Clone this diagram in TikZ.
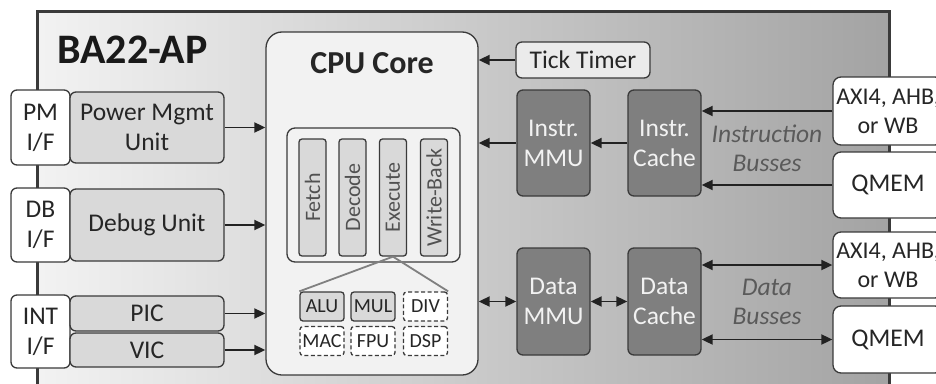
\documentclass[tikz,border=0pt]{standalone}
\usepackage{fontspec}
\setmainfont{Carlito}
\usetikzlibrary{arrows.meta}
\definecolor{bd}{HTML}{3A3A3A}
\definecolor{lg}{HTML}{D9D9D9}
\definecolor{dg}{HTML}{7F7F7F}
\definecolor{cpuf}{HTML}{F2F2F2}
\definecolor{txt}{HTML}{262626}
\definecolor{busc}{HTML}{5A5A5A}
\definecolor{ln}{HTML}{222222}
\begin{document}
\begin{tikzpicture}[x=1pt,y=-1pt,
  box/.style={draw=bd, line width=1.3pt, rounded corners=6pt, inner sep=0pt, align=center,
    font=\fontsize{25.5}{30}\selectfont, text=txt},
  ifbox/.style={box, fill=white},
  lbox/.style={box, fill=lg},
  dbox/.style={box, fill=dg, text=white!95!black},
  stagebox/.style={box, fill=lg, rotate=90, minimum width=117pt, minimum height=27pt,
    rounded corners=3pt, font=\fontsize{22}{24}\selectfont, text=txt!80!white},
  eubox/.style={box, rounded corners=3pt, minimum width=44pt, minimum height=29pt,
    font=\fontsize{20}{22}\selectfont},
  eufix/.style={eubox, fill=lg},
  euopt/.style={eubox, fill=white, dash pattern=on 4pt off 2.5pt},
  arr/.style={draw=ln, line width=1.8pt, -{Triangle[length=11pt,width=10pt]}},
  darr/.style={draw=ln, line width=1.8pt, {Triangle[length=11pt,width=10pt]}-{Triangle[length=11pt,width=10pt]}},
  fan/.style={draw=gray, line width=1.8pt},
  bus/.style={font=\itshape\fontsize{25.5}{29}\selectfont, text=busc, align=center, inner sep=0pt}
]
\useasboundingbox (0,0) rectangle (936,383);
\clip (0,0) rectangle (936,383);
% outer chip
\shade[left color=black!5, right color=black!36] (37,11) rectangle (889,400);
\draw[bd, line width=3pt] (37,11) rectangle (889,400);
\node[anchor=base west, inner sep=0pt, font=\bfseries\fontsize{42}{48}\selectfont, text=black!90] (title) at (57,63) {BA22-AP};

% CPU core
\node[box, fill=cpuf, rounded corners=16pt, minimum width=212pt, minimum height=343pt] (cpu) at (372,203.5) {};
\node[anchor=base, inner sep=0pt, font=\bfseries\fontsize{32}{36}\selectfont, text=txt] (cputitle) at (372,73) {CPU Core};
\node[box, fill=cpuf, rounded corners=8pt, minimum width=173pt, minimum height=134pt] (pipe) at (373.5,195) {};
\node[stagebox] (fetch) at (312.5,197.5) {Fetch};
\node[stagebox] (decode) at (352.5,197.5) {Decode};
\node[stagebox] (exe) at (393,197.5) {Execute};
\node[stagebox] (wb) at (434,197.5) {Write-Back};
\node[eufix] (alu) at (322,306.5) {ALU};
\node[eufix] (mul) at (373,306.5) {MUL};
\node[euopt] (div) at (425.5,306.5) {DIV};
\node[euopt] (mac) at (322,341) {MAC};
\node[euopt] (fpu) at (373,341) {FPU};
\node[euopt] (dsp) at (425.5,341) {DSP};
\draw[fan] (exe.west) -- (alu.north west);
\draw[fan] (exe.west) -- (div.north east);

% left side
\node[ifbox, minimum width=59pt, minimum height=75pt] (pmif) at (40.5,127.5) {PM\\I/F};
\node[lbox, minimum width=154pt, minimum height=71pt] (pmu) at (147,127.5) {Power Mgmt\\Unit};
\node[ifbox, minimum width=59pt, minimum height=74pt] (dbif) at (40.5,225) {DB\\I/F};
\node[lbox, minimum width=154pt, minimum height=72pt] (dbu) at (147,225) {Debug Unit};
\node[ifbox, minimum width=59pt, minimum height=73pt] (intif) at (40.5,331.5) {INT\\I/F};
\node[lbox, minimum width=154pt, minimum height=35pt] (pic) at (147,313.5) {PIC};
\node[lbox, minimum width=154pt, minimum height=34pt] (vic) at (147,350) {VIC};
\draw[arr] (pmu.east) -- (cpu.west |- pmu.east);
\draw[arr] (dbu.east) -- (cpu.west |- dbu.east);
\draw[arr] (pic.east) -- (cpu.west |- pic.east);
\draw[arr] (vic.east) -- (cpu.west |- vic.east);

% right side
\node[box, fill=black!8, minimum width=134pt, minimum height=36pt] (tick) at (583,60) {Tick Timer};
\node[dbox, minimum width=73pt, minimum height=106pt] (immu) at (553.5,143) {Instr.\\MMU};
\node[dbox, minimum width=73pt, minimum height=106pt] (icache) at (664.5,143) {Instr.\\Cache};
\node[dbox, minimum width=73pt, minimum height=107pt] (dmmu) at (553.5,301.5) {Data\\MMU};
\node[dbox, minimum width=73pt, minimum height=107pt] (dcache) at (664.5,301.5) {Data\\Cache};
\node[ifbox, rounded corners=8pt, minimum width=110pt, minimum height=68pt, font=\fontsize{24}{29}\selectfont] (axi1) at (888,111) {AXI4, AHB,\\or WB};
\node[ifbox, rounded corners=8pt, minimum width=110pt, minimum height=66pt] (qmem1) at (888,185) {QMEM};
\node[ifbox, rounded corners=8pt, minimum width=110pt, minimum height=66pt, font=\fontsize{24}{29}\selectfont] (axi2) at (888,265) {AXI4, AHB,\\or WB};
\node[ifbox, rounded corners=8pt, minimum width=110pt, minimum height=67pt] (qmem2) at (888,339.5) {QMEM};
\node[bus] (ibus) at (767,148) {Instruction\\Busses};
\node[bus] (dbus) at (767,302) {Data\\Busses};

\draw[arr] (tick.west) -- (cpu.east |- tick.west);
\draw[arr] (immu.west) -- (cpu.east |- immu.west);
\draw[arr] (icache.west) -- (immu.east);
\draw[arr] (axi1.west) -- (icache.east |- axi1.west);
\draw[arr] (qmem1.west) -- (icache.east |- qmem1.west);
\draw[darr] (cpu.east |- dmmu.west) -- (dmmu.west);
\draw[darr] (dmmu.east) -- (dcache.west);
\draw[darr] (dcache.east |- axi2.west) -- (axi2.west);
\draw[darr] (dcache.east |- qmem2.west) -- (qmem2.west);
\end{tikzpicture}
\end{document}
